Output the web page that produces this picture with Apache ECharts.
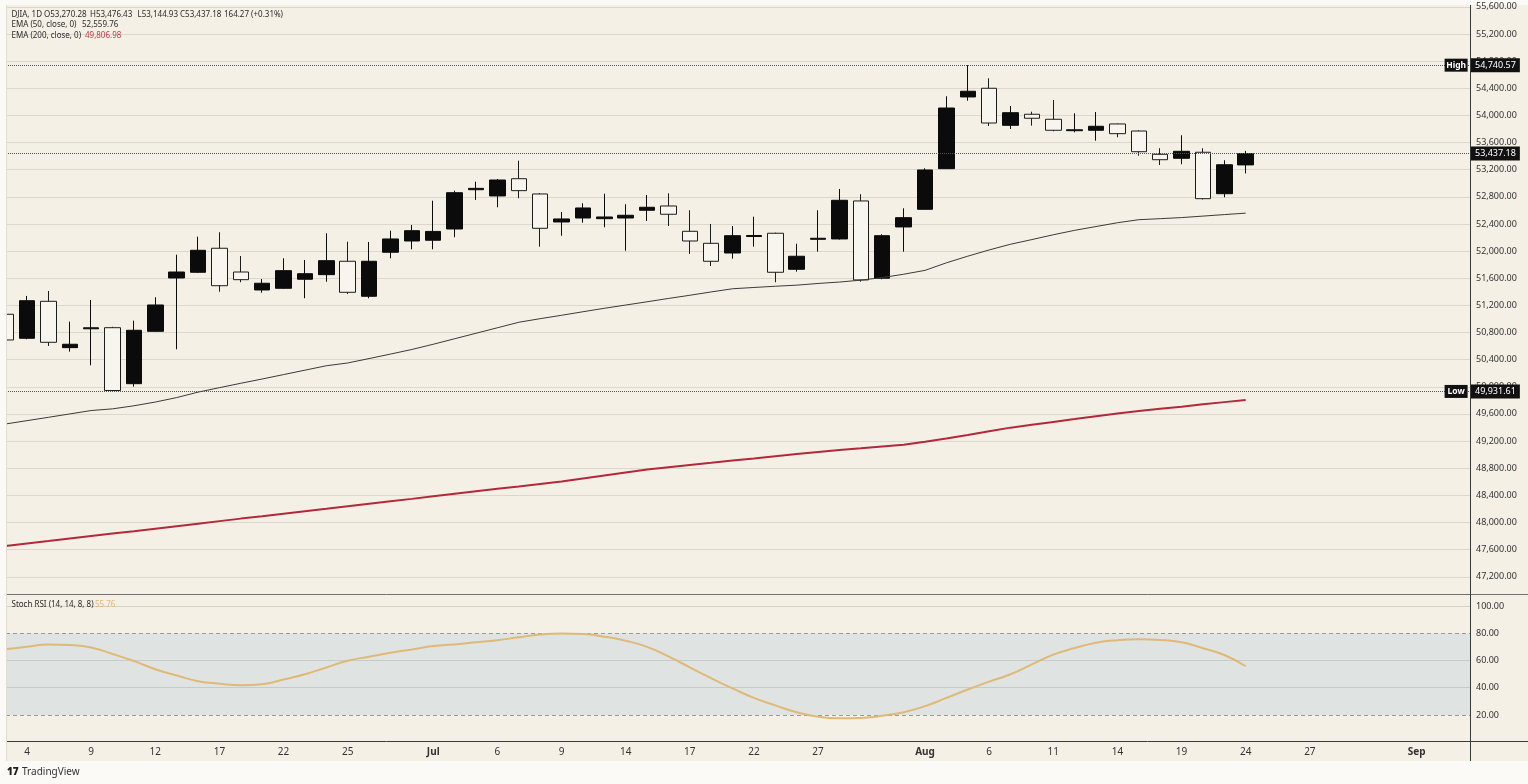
<!DOCTYPE html>
<html>
<head>
<meta charset="utf-8">
<title>DJIA 1D</title>
<style>
  html, body { margin: 0; padding: 0; background: #fbfaf7; }
  #chart { width: 1528px; height: 784px; }
</style>
<script src="https://cdn.jsdelivr.net/npm/echarts@6/dist/echarts.min.js"></script>
</head>
<body>
<div id="chart"></div>
<script>
// bar index of the first value (Jun 3, cut at the left edge)
var firstIdx = -1;

var opens  = [51069, 50715, 51260, 50577, 50855, 50871, 50046, 50818, 51604, 51688, 52042, 51692, 51427, 51452, 51585, 51653, 51850, 51334, 51983, 52149,
              52160, 52326, 52905, 52813, 53067, 52842, 52429, 52488, 52478, 52488, 52602, 52665, 52292, 52115, 51972, 52215, 52263, 51732, 52174, 52179,
              52739, 51600, 52356, 52616, 53215, 54272, 54400, 53854, 54017, 53943, 53775, 53781, 53874, 53770, 53427, 53368, 53457, 52846, 53270.28];
var closes = [50690, 51269, 50656, 50627, 50870, 49945, 50833, 51206, 51692, 52012, 51490, 51579, 51526, 51712, 51667, 51859, 51393, 51850, 52179, 52301,
              52290, 52861, 52925, 53048, 52891, 52336, 52474, 52636, 52503, 52528, 52646, 52543, 52149, 51850, 52227, 52230, 51688, 51924, 52189, 52749,
              51575, 52227, 52493, 53196, 54109, 54356, 53888, 54040, 53958, 53781, 53788, 53840, 53731, 53465, 53347, 53471, 52773, 53272.91, 53437.18];
var lows   = [50675, 50700, 50602, 50518, 50317, 49931.61, 50002, 50808, 50553, 51677, 51402, 51541, 51387, 51442, 51305, 51549, 51368, 51305, 51894, 52027,
              52027, 52204, 52754, 52646, 52779, 52065, 52227, 52419, 52351, 52006, 52444, 52370, 51958, 51781, 51888, 52065, 51541, 51697, 51992, 52171,
              51549, 51585, 51992, 52613, 53210, 54217, 53844, 53800, 53849, 53766, 53751, 53628, 53678, 53406, 53269, 53280, 52760, 52793, 53144.93];
var highs  = [51080, 51339, 51412, 50960, 51280, 50885, 50975, 51320, 51947, 52213, 52278, 51928, 51589, 51894, 51869, 52263, 52139, 52135, 52301, 52385,
              52743, 52891, 53023, 53063, 53333, 52856, 52577, 52705, 52846, 52690, 52827, 52852, 52602, 52400, 52370, 52507, 52272, 52109, 52602, 52916,
              52838, 52248, 52631, 53221, 54282, 54740.57, 54547, 54139, 54055, 54227, 54031, 54050, 53881, 53781, 53516, 53707, 53516, 53339, 53476.43];

var ema50  = [49452, 49501, 49550, 49600, 49650, 49675, 49720, 49775, 49841, 49921, 49987, 50052, 50115, 50180, 50245, 50310, 50351, 50416, 50482, 50550,
              50627, 50708, 50789, 50870, 50951, 51004, 51054, 51106, 51157, 51205, 51253, 51302, 51349, 51398, 51445, 51464, 51482, 51498, 51523, 51544,
              51572, 51610, 51659, 51716, 51827, 51925, 52017, 52101, 52170, 52241, 52306, 52362, 52418, 52463, 52478, 52494, 52516, 52538, 52559.76];
var ema200 = [47654, 47690, 47726, 47763, 47800, 47837, 47872, 47909, 47946, 47983, 48020, 48057, 48092, 48129, 48166, 48202, 48239, 48276, 48312, 48348,
              48385, 48422, 48459, 48496, 48531, 48568, 48605, 48649, 48692, 48736, 48780, 48814, 48847, 48879, 48913, 48944, 48976, 49009, 49040, 49069,
              49094, 49121, 49147, 49190, 49237, 49290, 49346, 49398, 49440, 49482, 49524, 49567, 49608, 49642, 49675, 49707, 49741, 49774, 49806.98];
var stochRsi = [68.2, 70, 71.8, 71.4, 69.6, 64.8, 59.6, 53.6, 49, 44.8, 43, 41.9, 42.6, 46.1, 49.9, 54.9, 59.8, 62.8, 65.7, 68.1,
                70.6, 71.8, 73.3, 74.9, 77, 79, 79.8, 79.5, 77.5, 74.5, 70, 63, 55, 47, 39.5, 32.5, 27, 22, 18.7, 17.5,
                17.8, 19.5, 22, 26.5, 32.5, 38.7, 44.5, 49.9, 57.1, 64.3, 69.1, 73, 74.9, 75.6, 75.1, 73.4, 69, 64, 55.76];

// date axis labels (bar index -> text)
var tickIdx  = [0, 3, 6, 9, 12, 15, 19, 22, 25, 28, 31, 34, 37, 42, 45, 48, 51, 54, 57, 60, 65];
var tickText = ['4', '9', '12', '17', '22', '25', 'Jul', '6', '9', '14', '17', '22', '27', 'Aug', '6', '11', '14', '19', '24', '27', 'Sep'];

var priceHigh = 54740.57;
var priceLow = 49931.61;

var xMin = -0.982, xMax = 67.49;
var tagX = 66.84;   // where the High / Low tags sit
var FONT = 'Noto Sans, sans-serif';
var TXT = '#333333';

function fmt(v) {
  return v.toLocaleString('en-US', { minimumFractionDigits: 2, maximumFractionDigits: 2 });
}
function idx(i) { return firstIdx + i; }

var candles = opens.map(function (o, i) { return [idx(i), o, closes[i], lows[i], highs[i]]; });
var ema50Data = ema50.map(function (v, i) { return [idx(i), v]; });
var ema200Data = ema200.map(function (v, i) { return [idx(i), v]; });
var stochData = stochRsi.map(function (v, i) { return [idx(i), v]; });

var n = opens.length;
var lastO = opens[n - 1], lastC = closes[n - 1], lastL = lows[n - 1], lastH = highs[n - 1];
var chg = lastC - closes[n - 2];
var chgPct = chg / closes[n - 2] * 100;

function priceLine(v) {
  return {
    yAxis: v,
    lineStyle: { type: 'dotted', color: '#555', width: 1 },
    label: {
      show: true, position: 'end', distance: 1, formatter: fmt(v),
      color: '#fff', backgroundColor: '#111', padding: [2, 4, 2, 4],
      fontSize: 9, fontFamily: FONT, lineHeight: 10
    }
  };
}
function tag(text, v) {
  return {
    coord: [tagX, v], symbol: 'rect', symbolSize: [23, 13],
    itemStyle: { color: '#111' },
    label: { show: true, position: 'inside', formatter: text, color: '#fff', fontSize: 8.5, fontWeight: 'bold', fontFamily: FONT }
  };
}
function hLine(v, dashed, color) {
  return { yAxis: v, lineStyle: { type: dashed ? [4, 3] : 'solid', color: color, width: 1 } };
}
// small legend text piece, y is the text middle
function note(x, y, text, color) {
  return {
    type: 'text', z: 50, x: x, y: y, silent: true,
    style: { text: text, fill: color || '#2b2b2b', font: '8px ' + FONT, verticalAlign: 'middle' }
  };
}

var myChart = echarts.init(document.getElementById('chart'));

myChart.setOption({
  animation: false,
  backgroundColor: '#fbfaf7',
  textStyle: { fontFamily: FONT },
  grid: [
    { left: 6, right: 58, top: 6.86, height: 597.04 },
    { left: 6, right: 58, top: 606, height: 136.2 }
  ],
  xAxis: [
    { type: 'value', gridIndex: 0, min: xMin, max: xMax, show: false },
    {
      type: 'value', gridIndex: 1, min: xMin, max: xMax,
      axisLine: { show: false }, axisTick: { show: false }, splitLine: { show: false },
      axisLabel: {
        customValues: tickIdx, margin: 5, color: TXT, fontSize: 10,
        formatter: function (v) {
          var k = tickIdx.indexOf(Math.round(v));
          if (k < 0) return '';
          var t = tickText[k];
          return /^[A-Z]/.test(t) ? '{m|' + t + '}' : t;
        },
        rich: { m: { fontWeight: 'bold', fontSize: 10, color: TXT } }
      }
    }
  ],
  yAxis: [
    {
      type: 'value', gridIndex: 0, position: 'right', min: 46800, max: 55600, interval: 400,
      axisLine: { show: false }, axisTick: { show: false },
      axisLabel: { color: TXT, fontSize: 9, margin: 6, showMinLabel: false, formatter: fmt },
      splitLine: { showMinLine: false, lineStyle: { color: '#dcd7cb', width: 1 } }
    },
    {
      type: 'value', gridIndex: 1, position: 'right', min: 0, max: 100, interval: 20,
      axisLine: { show: false }, axisTick: { show: false },
      axisLabel: { color: TXT, fontSize: 9, margin: 6, showMinLabel: false, formatter: function (v) { return v.toFixed(2); } },
      splitLine: { show: false }
    }
  ],
  series: [
    {
      name: 'EMA 200', type: 'line', xAxisIndex: 0, yAxisIndex: 0, data: ema200Data,
      symbol: 'none', silent: true, lineStyle: { color: '#b3283a', width: 2 }
    },
    {
      name: 'EMA 50', type: 'line', xAxisIndex: 0, yAxisIndex: 0, data: ema50Data,
      symbol: 'none', silent: true, lineStyle: { color: '#3a3a3a', width: 1 }
    },
    {
      name: 'DJIA', type: 'candlestick', xAxisIndex: 0, yAxisIndex: 0, data: candles,
      barWidth: 16, clip: true, silent: true,
      itemStyle: { color: '#0b0b0b', color0: '#f8f5ee', borderColor: '#0b0b0b', borderColor0: '#1c1c1c', borderWidth: 1 },
      markLine: {
        silent: true, symbol: ['none', 'none'], animation: false,
        data: [priceLine(priceHigh), priceLine(lastC), priceLine(priceLow)]
      },
      markPoint: {
        silent: true, animation: false,
        data: [tag('High', priceHigh), tag('Low', priceLow)]
      }
    },
    {
      name: 'Stoch RSI', type: 'line', xAxisIndex: 1, yAxisIndex: 1, data: stochData,
      symbol: 'none', smooth: true, silent: true, z: 5,
      lineStyle: { color: '#dfb976', width: 2 },
      markArea: {
        silent: true,
        itemStyle: { color: '#dfe4e2' },
        data: [[{ yAxis: 20 }, { yAxis: 80 }]]
      },
      markLine: {
        silent: true, symbol: ['none', 'none'], label: { show: false },
        data: [hLine(100, false, '#d6d1c5'), hLine(80, true, '#9a9a9a'), hLine(60, false, '#c6cbc9'),
               hLine(40, false, '#c6cbc9'), hLine(20, true, '#9a9a9a')]
      }
    }
  ],
  graphic: [
    { type: 'rect', z: -100, silent: true, shape: { x: 6, y: 5, width: 1522, height: 756 }, style: { fill: '#f4f0e6' } },
    // cover the part of the first candle that falls left of the pane
    { type: 'rect', z: 60, silent: true, shape: { x: 0, y: 0, width: 6, height: 784 }, style: { fill: '#fbfaf7' } },
    { type: 'line', z: 60, silent: true, shape: { x1: 6.5, y1: 5, x2: 6.5, y2: 761 }, style: { stroke: '#e2ddd2', lineWidth: 1 } },
    { type: 'line', z: 50, silent: true, shape: { x1: 6, y1: 594.5, x2: 1528, y2: 594.5 }, style: { stroke: '#707070', lineWidth: 1 } },
    { type: 'line', z: 50, silent: true, shape: { x1: 6, y1: 741.5, x2: 1528, y2: 741.5 }, style: { stroke: '#3a3a3a', lineWidth: 1 } },
    { type: 'line', z: 50, silent: true, shape: { x1: 1470.5, y1: 5, x2: 1470.5, y2: 761 }, style: { stroke: '#3a3a3a', lineWidth: 1 } },
    note(11.5, 14.5, 'DJIA, 1D'),
    note(44, 14.5, 'O' + fmt(lastO)),
    note(90, 14.5, 'H' + fmt(lastH)),
    note(137.5, 14.5, 'L' + fmt(lastL)),
    note(180, 14.5, 'C' + fmt(lastC)),
    note(224, 14.5, chg.toFixed(2) + ' (+' + chgPct.toFixed(2) + '%)'),
    note(11.5, 25, 'EMA (50, close, 0)'),
    note(82, 25, fmt(ema50[n - 1])),
    note(11.5, 35.5, 'EMA (200, close, 0)'),
    note(85, 35.5, fmt(ema200[n - 1]), '#c23a4a'),
    note(11.5, 604.5, 'Stoch RSI (14, 14, 8, 8)'),
    note(95, 604.5, stochRsi[n - 1].toFixed(2), '#dcb878'),
    {
      type: 'text', z: 50, x: 7, y: 772, silent: true,
      style: {
        text: '{l|17} {t|TradingView}', verticalAlign: 'middle',
        rich: { l: { fill: '#222', font: '900 10px ' + FONT }, t: { fill: '#333', font: '10px ' + FONT } }
      }
    }
  ]
});
</script>
</body>
</html>
